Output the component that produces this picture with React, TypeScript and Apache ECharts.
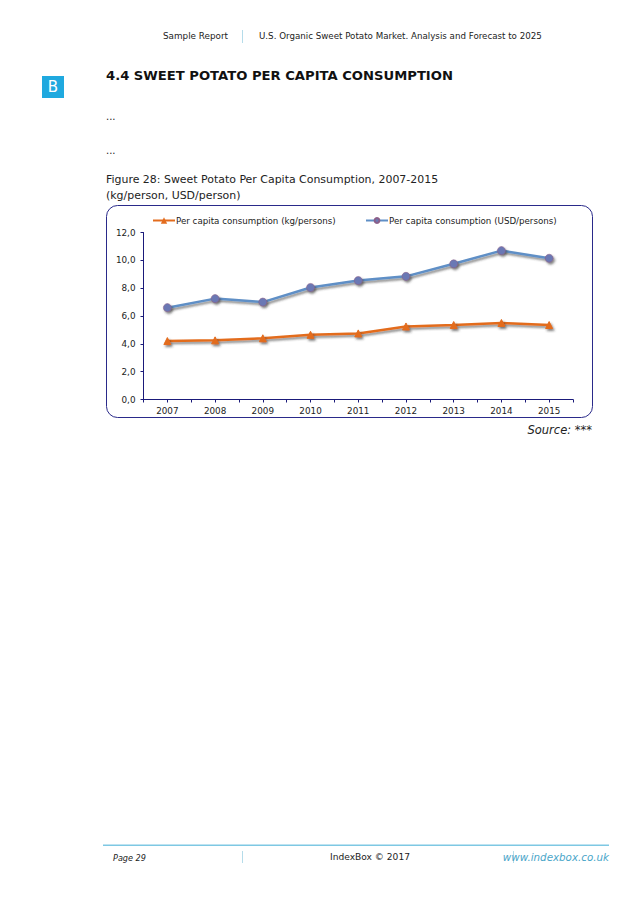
import React, { useEffect, useRef } from "react";
import * as echarts from "echarts";

const years = ["2007", "2008", "2009", "2010", "2011", "2012", "2013", "2014", "2015"];
const kgValues = [4.2, 4.25, 4.4, 4.65, 4.75, 5.25, 5.35, 5.5, 5.35];
const usdValues = [6.6, 7.25, 7.0, 8.05, 8.55, 8.85, 9.75, 10.7, 10.15];
const kgName = "Per capita consumption (kg/persons)";
const usdName = "Per capita consumption (USD/persons)";
const FONT = "DejaVu Sans";
const NAVY = "#1a1a7a";

const txt = (x: number, y: number, text: string, fontSize: number, extra: any = {}) => ({
  type: "text",
  x,
  y,
  style: { text, fontSize, fontFamily: FONT, fill: "#222222", textVerticalAlign: "middle", ...extra },
});

const shadow = {
  shadowColor: "rgba(50,50,50,0.6)",
  shadowBlur: 2,
  shadowOffsetX: 1.5,
  shadowOffsetY: 2,
};

export default function App() {
  const ref = useRef<HTMLDivElement>(null);
  useEffect(() => {
    document.body.style.margin = "0";
    const chart = echarts.init(ref.current!, undefined, { renderer: "svg" });
    const legendText = { fontSize: 8.7, color: "#222222", fontFamily: FONT, padding: [0, 0, 0, -4] };
    chart.setOption({
      animation: false,
      backgroundColor: "#ffffff",
      textStyle: { fontFamily: FONT },
      legend: [
        {
          data: [{ name: kgName }],
          left: 147,
          top: 211,
          itemWidth: 22,
          itemHeight: 8,
          itemGap: 0,
          textStyle: legendText,
        },
        {
          data: [{ name: usdName }],
          left: 360,
          top: 211,
          itemWidth: 22,
          itemHeight: 6,
          itemGap: 0,
          textStyle: legendText,
        },
      ],
      grid: { left: 143.5, top: 232.5, width: 429.5, height: 167, containLabel: false },
      xAxis: [
        {
          type: "category",
          data: years,
          boundaryGap: true,
          axisLine: { show: true, lineStyle: { color: NAVY, width: 1 } },
          axisTick: { show: true, alignWithLabel: true, length: 3, lineStyle: { color: NAVY } },
          axisLabel: { fontSize: 8.8, color: "#222222", fontFamily: FONT, margin: 7 },
        },
        {
          type: "category",
          data: years,
          boundaryGap: true,
          position: "bottom",
          axisLine: { show: false },
          axisTick: { show: true, alignWithLabel: false, length: 3, lineStyle: { color: NAVY } },
          axisLabel: { show: false },
        },
      ],
      yAxis: {
        type: "value",
        min: 0,
        max: 12,
        interval: 2,
        axisLine: { show: true, lineStyle: { color: NAVY, width: 1 } },
        axisTick: { show: true, length: 3, lineStyle: { color: NAVY } },
        splitLine: { show: false },
        axisLabel: {
          fontSize: 8.8,
          color: "#222222",
          fontFamily: FONT,
          margin: 8,
          formatter: (v: number) => v.toFixed(1).replace(".", ","),
        },
      },
      series: [
        {
          name: kgName,
          type: "line",
          data: kgValues,
          symbol: "triangle",
          symbolSize: 7,
          itemStyle: { color: "#e36c1e", borderColor: "#e36c1e", ...shadow },
          lineStyle: { color: "#e36c1e", width: 2.5, ...shadow },
        },
        {
          name: usdName,
          type: "line",
          data: usdValues,
          symbol: "circle",
          symbolSize: 8,
          itemStyle: { color: "#6b78b4", borderColor: "#8a5f8a", borderWidth: 0.6, ...shadow },
          lineStyle: { color: "#5f8fc6", width: 2.5, ...shadow },
        },
      ],
      graphic: [
        {
          type: "rect",
          z: -1,
          shape: { x: 106.5, y: 205.5, width: 486, height: 212, r: 11 },
          style: { fill: "#ffffff", stroke: "#2a2a8a", lineWidth: 1 },
        },
        txt(163, 36, "Sample Report", 8.8),
        txt(259, 36, "U.S. Organic Sweet Potato Market. Analysis and Forecast to 2025", 8.7),
        { type: "rect", shape: { x: 242, y: 30, width: 1, height: 13 }, style: { fill: "#b5dcea" } },
        txt(106, 75, "4.4 SWEET POTATO PER CAPITA CONSUMPTION", 13.15, { fontWeight: "bold", fill: "#111111" }),
        { type: "rect", shape: { x: 42, y: 76, width: 22, height: 22 }, style: { fill: "#1fa9df" } },
        txt(53, 87, "B", 15, { fill: "#ffffff", textAlign: "center" }),
        txt(106, 116, "...", 10),
        txt(106, 150, "...", 10),
        txt(106, 179, "Figure 28: Sweet Potato Per Capita Consumption, 2007-2015", 10.95),
        txt(106, 195, "(kg/person, USD/person)", 10.95),
        txt(592, 430, "Source: ***", 11.5, { textAlign: "right", fontStyle: "italic" }),
        { type: "rect", shape: { x: 103, y: 844.5, width: 506, height: 1.5 }, style: { fill: "#7ec8e3" } },
        txt(113, 858, "Page 29", 8.1, { fontStyle: "italic" }),
        { type: "rect", shape: { x: 242, y: 851, width: 1, height: 12 }, style: { fill: "#b5dcea" } },
        txt(330, 857, "IndexBox \u00a9 2017", 9.1),
        { type: "rect", shape: { x: 513, y: 851, width: 1, height: 12 }, style: { fill: "#b5dcea" } },
        txt(609, 857, "www.indexbox.co.uk", 10.3, { textAlign: "right", fontStyle: "italic", fill: "#4aa6c9" }),
      ],
    });
    return () => chart.dispose();
  }, []);
  return <div ref={ref} style={{ width: 638, height: 903 }} />;
}
